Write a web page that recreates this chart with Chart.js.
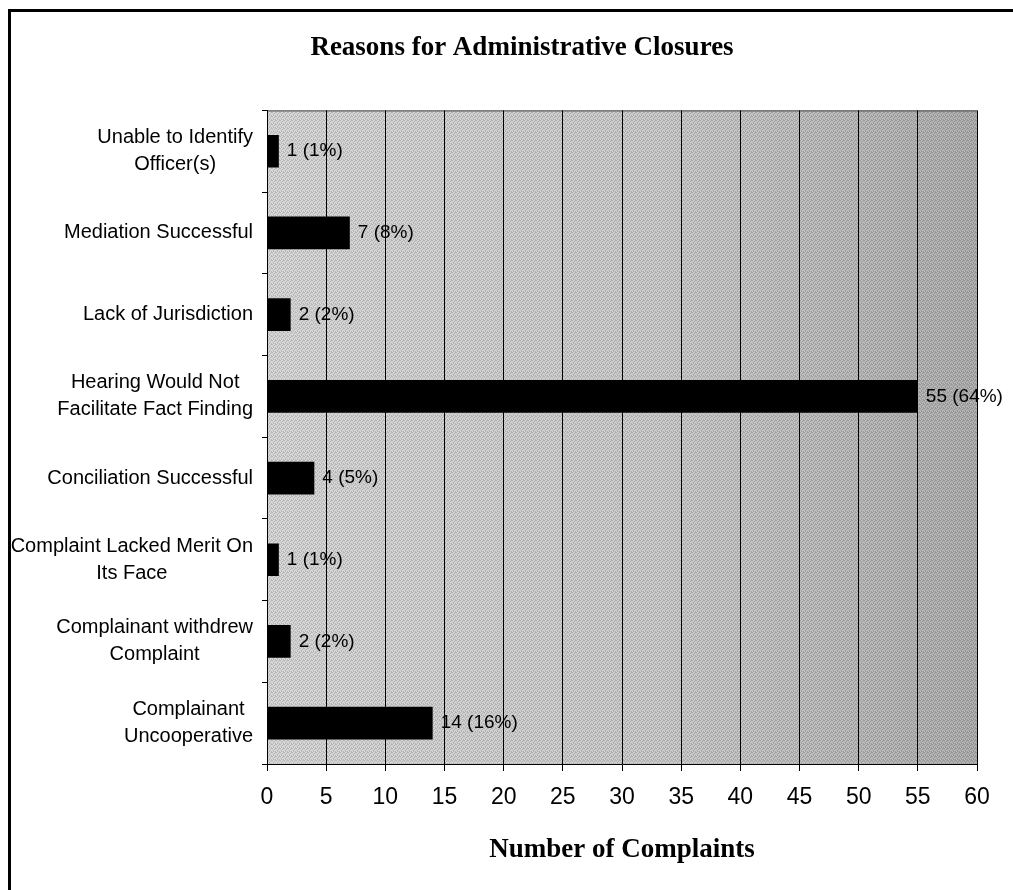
<!DOCTYPE html>
<html>
<head>
<meta charset="utf-8">
<script src="https://cdn.jsdelivr.net/npm/chart.js@4.4.0/dist/chart.umd.min.js"></script>
<style>
  html, body { margin:0; padding:0; background:#fff; }
  #wrap { position:relative; width:1013px; height:890px; overflow:hidden; }
  #chart { position:absolute; left:0; top:0; }
  #frame { position:absolute; left:8px; top:9px; width:1010px; height:900px;
           border-top:3px solid #000; border-left:3px solid #000; pointer-events:none; }
</style>
</head>
<body>
<div id="wrap">
  <canvas id="chart" width="1013" height="890"></canvas>
  <div id="frame"></div>
</div>
<script>
// --- Données ---
const reasons = [
  ['Unable to Identify', 'Officer(s)'],
  ['Mediation Successful'],
  ['Lack of Jurisdiction'],
  ['Hearing Would Not', 'Facilitate Fact Finding'],
  ['Conciliation Successful'],
  ['Complaint Lacked Merit On', 'Its Face'],
  ['Complainant withdrew', 'Complaint'],
  ['Complainant', 'Uncooperative']
];
const complaints = [1, 7, 2, 55, 4, 1, 2, 14];
const percents = [1, 8, 2, 64, 5, 1, 2, 16];
const xTicks = [0, 5, 10, 15, 20, 25, 30, 35, 40, 45, 50, 55, 60];

const sansFont = "'Liberation Sans', Arial, sans-serif";
const serifFont = "'Liberation Serif', 'Times New Roman', serif";

// petit motif tramé (fixe) pour imiter le gris imprimé
function makeDither(ctx) {
  const c = document.createElement('canvas');
  c.width = 4; c.height = 4;
  const p = c.getContext('2d');
  const dots = [[0,0],[2,1],[1,2],[3,3],[3,0],[1,3]];
  p.fillStyle = 'rgba(0,0,0,0.13)';
  dots.forEach(d => p.fillRect(d[0], d[1], 1, 1));
  p.fillStyle = 'rgba(255,255,255,0.18)';
  [[1,0],[3,2],[0,3],[2,2]].forEach(d => p.fillRect(d[0], d[1], 1, 1));
  return ctx.createPattern(c, 'repeat');
}

// fond gris du graphique
const plotBackground = {
  id: 'plotBackground',
  beforeDraw(chart) {
    const { ctx, chartArea: a } = chart;
    const g = ctx.createLinearGradient(a.left, 0, a.right, 0);
    g.addColorStop(0, '#d3d3d3');
    g.addColorStop(0.55, '#c6c6c6');
    g.addColorStop(1, '#a9a9a9');
    ctx.save();
    ctx.fillStyle = g;
    ctx.fillRect(a.left, a.top, a.right - a.left, a.bottom - a.top);
    ctx.fillStyle = makeDither(ctx);
    ctx.fillRect(a.left, a.top, a.right - a.left, a.bottom - a.top);
    ctx.strokeStyle = '#444';
    ctx.lineWidth = 1;
    ctx.beginPath();
    ctx.moveTo(a.left, a.top + 0.5);
    ctx.lineTo(a.right, a.top + 0.5);
    ctx.stroke();
    ctx.restore();
  }
};

// étiquettes des catégories (lignes centrées, bloc aligné à droite)
const categoryLabels = {
  id: 'categoryLabels',
  afterDraw(chart) {
    const { ctx, chartArea: a } = chart;
    const y = chart.scales.y;
    const lineH = 27;
    ctx.save();
    ctx.font = '20px ' + sansFont;
    ctx.fillStyle = '#000';
    ctx.textAlign = 'center';
    ctx.textBaseline = 'middle';
    reasons.forEach((lines, i) => {
      const w = Math.max(...lines.map(l => ctx.measureText(l).width));
      const cx = a.left - 14 - w / 2;
      const cy = y.getPixelForValue(i);
      lines.forEach((l, k) => {
        ctx.fillText(l, cx, cy + (k - (lines.length - 1) / 2) * lineH);
      });
    });
    ctx.restore();
  }
};

// valeurs à droite des barres
const valueLabels = {
  id: 'valueLabels',
  afterDatasetsDraw(chart) {
    const { ctx } = chart;
    const meta = chart.getDatasetMeta(0);
    ctx.save();
    ctx.font = '19px ' + sansFont;
    ctx.fillStyle = '#000';
    ctx.textAlign = 'left';
    ctx.textBaseline = 'middle';
    meta.data.forEach((bar, i) => {
      ctx.fillText(complaints[i] + ' (' + percents[i] + '%)', bar.x + 8, bar.y);
    });
    ctx.restore();
  }
};

new Chart(document.getElementById('chart'), {
  type: 'bar',
  data: {
    labels: reasons,
    datasets: [{
      data: complaints,
      backgroundColor: '#000',
      borderWidth: 0,
      barPercentage: 0.4,
      categoryPercentage: 1.0
    }]
  },
  options: {
    indexAxis: 'y',
    responsive: false,
    animation: false,
    layout: { padding: { left: 67, right: 36, top: 0, bottom: 0 } },
    plugins: {
      legend: { display: false },
      tooltip: { enabled: false },
      title: {
        display: true,
        text: 'Reasons for Administrative Closures',
        color: '#000',
        font: { family: serifFont, size: 27, weight: 'bold' },
        padding: { top: 32, bottom: 46 }
      }
    },
    scales: {
      x: {
        min: 0, max: 60,
        afterBuildTicks(scale) { scale.ticks = xTicks.map(v => ({ value: v })); },
        afterFit(scale) { scale.height = 126; },
        border: { display: true, color: '#000', width: 1 },
        grid: { color: '#000', lineWidth: 1, tickLength: 7, drawTicks: true },
        ticks: { color: '#000', font: { family: sansFont, size: 23 }, padding: 13, maxRotation: 0 },
        title: {
          display: true,
          text: 'Number of Complaints',
          color: '#000',
          font: { family: serifFont, size: 27, weight: 'bold' },
          padding: { top: 0, bottom: 24 }
        }
      },
      y: {
        afterFit(scale) { scale.width = 200; },
        border: { display: true, color: '#000', width: 1 },
        grid: { drawOnChartArea: false, drawTicks: true, tickLength: 5, color: '#000', offset: true },
        ticks: { display: false }
      }
    }
  },
  plugins: [plotBackground, categoryLabels, valueLabels]
});
</script>
</body>
</html>
